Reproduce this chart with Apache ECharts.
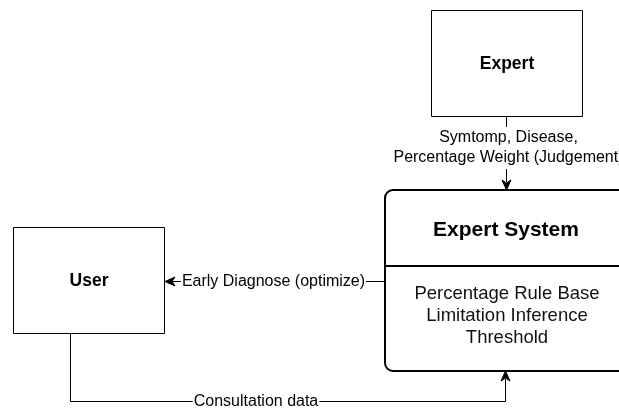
<!DOCTYPE html>
<html>
<head>
<meta charset="utf-8">
<script src="https://cdn.jsdelivr.net/npm/echarts@6/dist/echarts.min.js"></script>
<style>html,body{margin:0;padding:0;background:#fff}#c{width:619px;height:409px}</style>
</head>
<body>
<div id="c"></div>
<script>
// ---- diagram content ----
var nodeNames = ['Expert', 'User', 'Expert System'];
var systemBody = ['Percentage Rule Base', 'Limitation Inference', 'Threshold'];
var edgeLabels = ['Symtomp, Disease,\nPercentage Weight (Judgement)', 'Early Diagnose (optimize)', 'Consultation data'];

// ---- layout (positions/sizes kept separate from content) ----
var FONT = "'Liberation Sans', Arial, Helvetica, sans-serif";
var layout = {
  expert: {x: 431.5, y: 10.5, w: 151, h: 106},
  user: {x: 13.5, y: 227.5, w: 151, h: 106},
  system: {x: 385, y: 190, w: 242, h: 181, r: 8, divY: 266}
};

function arrowHead(tx, ty, dx, dy) {
  var L = 10, w = 4.5, n = 3;
  var px = -dy, py = dx;
  return {
    type: 'polygon',
    shape: {points: [
      [tx, ty],
      [tx - dx * L + px * w, ty - dy * L + py * w],
      [tx - dx * (L - n), ty - dy * (L - n)],
      [tx - dx * L - px * w, ty - dy * L - py * w]
    ]},
    style: {fill: '#000', stroke: '#000', lineWidth: 1},
    z: 5
  };
}

var els = [];
// edges
els.push({type: 'polyline', shape: {points: [[506.5, 116], [506.5, 182]]}, style: {stroke: '#000', lineWidth: 1, fill: null}, z: 1});
els.push(arrowHead(506.5, 190, 0, 1));
els.push({type: 'polyline', shape: {points: [[385, 281.5], [172, 281.5]]}, style: {stroke: '#000', lineWidth: 1, fill: null}, z: 1});
els.push(arrowHead(165, 281.5, -1, 0));
els.push({type: 'polyline', shape: {points: [[70.5, 333], [70.5, 401.5], [505.5, 401.5], [505.5, 379]]}, style: {stroke: '#000', lineWidth: 1, fill: null}, z: 1});
els.push(arrowHead(505.5, 371, 0, -1));

// nodes
var e = layout.expert, u = layout.user, s = layout.system;
els.push({type: 'rect', shape: {x: e.x, y: e.y, width: e.w, height: e.h}, style: {fill: '#fff', stroke: '#000', lineWidth: 1}, z: 2});
els.push({type: 'text', style: {text: nodeNames[0], x: e.x + e.w / 2, y: e.y + e.h / 2 + 1, align: 'center', verticalAlign: 'middle', font: 'bold 17.5px ' + FONT, fill: '#000'}, z: 3});
els.push({type: 'rect', shape: {x: u.x, y: u.y, width: u.w, height: u.h}, style: {fill: '#fff', stroke: '#000', lineWidth: 1}, z: 2});
els.push({type: 'text', style: {text: nodeNames[1], x: u.x + u.w / 2, y: u.y + u.h / 2 + 1, align: 'center', verticalAlign: 'middle', font: 'bold 17.5px ' + FONT, fill: '#000'}, z: 3});
els.push({type: 'rect', shape: {x: s.x, y: s.y, width: s.w, height: s.h, r: s.r}, style: {fill: '#fff', stroke: '#000', lineWidth: 2}, z: 2});
els.push({type: 'line', shape: {x1: s.x, y1: s.divY, x2: s.x + s.w, y2: s.divY}, style: {stroke: '#000', lineWidth: 2}, z: 3});
els.push({type: 'text', style: {text: nodeNames[2], x: 506, y: 230, align: 'center', verticalAlign: 'middle', font: 'bold 21px ' + FONT, fill: '#000'}, z: 3});
systemBody.forEach(function (t, i) {
  els.push({type: 'text', style: {text: t, x: 507, y: 294 + i * 22, align: 'center', verticalAlign: 'middle', font: '18.5px ' + FONT, fill: '#111'}, z: 3});
});

// edge labels
els.push({type: 'text', style: {text: edgeLabels[0], x: 508.5, y: 148, align: 'center', verticalAlign: 'middle', font: '16px ' + FONT, lineHeight: 20, fill: '#000', backgroundColor: '#fff', padding: [1, 0]}, z: 4});
els.push({type: 'text', style: {text: edgeLabels[1], x: 273.5, y: 281.5, align: 'center', verticalAlign: 'middle', font: '16px ' + FONT, fill: '#000', backgroundColor: '#fff', padding: [0, 1]}, z: 4});
els.push({type: 'text', style: {text: edgeLabels[2], x: 256, y: 401.5, align: 'center', verticalAlign: 'middle', font: '16px ' + FONT, fill: '#000', backgroundColor: '#fff', padding: [0, 1]}, z: 4});

var chart = echarts.init(document.getElementById('c'), null, {renderer: 'canvas'});
chart.setOption({
  backgroundColor: '#fff',
  animation: false,
  graphic: {elements: els}
});
</script>
</body>
</html>
